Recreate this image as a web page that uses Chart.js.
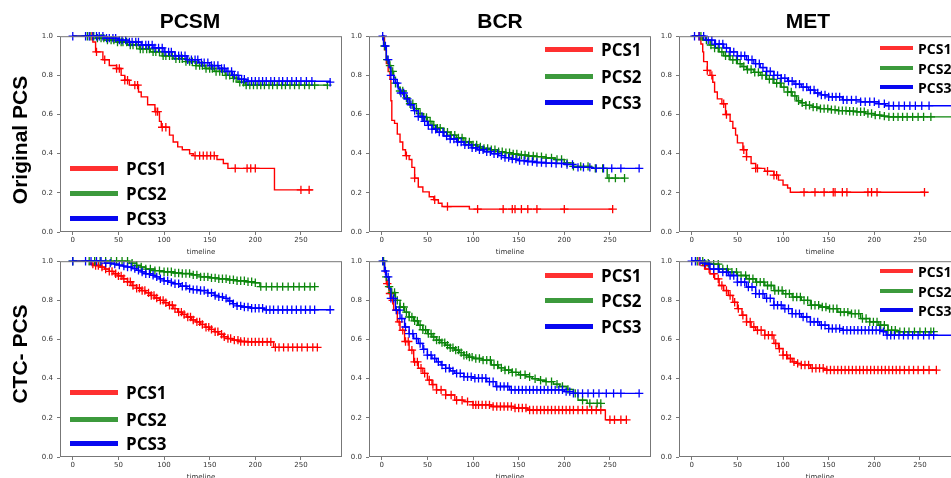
<!DOCTYPE html>
<html>
<head>
<meta charset="utf-8">
<script src="https://cdn.jsdelivr.net/npm/chart.js@4.4.1/dist/chart.umd.min.js"></script>
<style>
  body { margin: 0; background: #fff; width: 951px; height: 478px; overflow: hidden; position: relative; }
  canvas { position: absolute; }
  .colTitle { position: absolute; font: bold 21px "Liberation Sans", Arial, sans-serif; color: #000; transform: translate(-50%, -50%); white-space: nowrap; }
  .rowTitle { position: absolute; font: bold 21px "Liberation Sans", Arial, sans-serif; color: #000; transform: translate(-50%, -50%) rotate(-90deg); white-space: nowrap; }
  .legLine { position: absolute; }
  .legText { position: absolute; font-family: "Open Sans", sans-serif; font-weight: bold; color: #000; transform: translateY(-50%); white-space: nowrap; }
</style>
</head>
<body>
<script>
const xTicks = [0, 50, 100, 150, 200, 250];
const yTicks = [0, 0.2, 0.4, 0.6, 0.8, 1.0];
const seriesNames = ["PCS1", "PCS2", "PCS3"];
const colTitles = ["PCSM", "BCR", "MET"];
const rowTitles = ["Original PCS", "CTC- PCS"];

// Original PCS / PCSM
const origPcsmT1 = [0, 22, 25, 33, 40, 48, 53, 57, 62, 72, 75, 82, 90, 95, 97, 106, 110, 115, 120, 128, 132, 158, 165, 170, 221, 263];
const origPcsmS1 = [1.0, 0.97, 0.92, 0.88, 0.85, 0.835, 0.80, 0.775, 0.75, 0.715, 0.69, 0.65, 0.615, 0.565, 0.535, 0.495, 0.46, 0.435, 0.42, 0.40, 0.39, 0.37, 0.35, 0.325, 0.215, 0.215];
const origPcsmC1 = [21, 26, 35, 48, 51, 57, 60, 68, 71, 91, 93, 98, 102, 134, 139, 143, 147, 151, 155, 178, 191, 195, 200, 250, 259];
const origPcsmT2 = [0, 25, 35, 48, 60, 73, 85, 98, 110, 124, 135, 145, 155, 167, 175, 181, 189, 279];
const origPcsmS2 = [1.0, 0.99, 0.98, 0.97, 0.955, 0.935, 0.92, 0.90, 0.885, 0.87, 0.85, 0.835, 0.82, 0.80, 0.785, 0.765, 0.75, 0.75];
const origPcsmC2 = [16, 19, 23, 27, 31, 34, 38, 42, 45, 49, 53, 55, 59, 63, 66, 70, 74, 77, 81, 84, 88, 91, 95, 99, 102, 106, 109, 113, 117, 120, 124, 128, 131, 135, 139, 142, 146, 150, 153, 157, 161, 164, 168, 172, 176, 179, 183, 187, 190, 194, 198, 202, 206, 210, 215, 219, 224, 229, 233, 238, 243, 248, 254, 259, 265, 279];
const origPcsmT3 = [0, 35, 50, 62, 75, 88, 100, 112, 125, 138, 150, 160, 168, 175, 182, 190, 282];
const origPcsmS3 = [1.0, 0.99, 0.98, 0.97, 0.955, 0.94, 0.92, 0.90, 0.88, 0.865, 0.85, 0.835, 0.82, 0.80, 0.78, 0.77, 0.765];
const origPcsmC3 = [0, 14, 18, 22, 26, 29, 33, 37, 40, 44, 47, 51, 54, 58, 62, 65, 69, 72, 76, 80, 83, 87, 90, 94, 98, 101, 105, 108, 112, 116, 119, 123, 126, 130, 134, 137, 141, 144, 148, 152, 155, 159, 163, 166, 170, 174, 177, 181, 185, 188, 192, 196, 200, 204, 208, 212, 217, 221, 226, 230, 235, 240, 245, 250, 256, 262, 282];

// Original PCS / BCR
const origBcrT1 = [0, 3, 5, 7, 9, 10, 11, 14, 17, 20, 23, 26, 30, 33, 36, 40, 45, 52, 57, 62, 66, 96, 253];
const origBcrS1 = [1.0, 0.93, 0.86, 0.82, 0.78, 0.67, 0.57, 0.555, 0.50, 0.46, 0.42, 0.39, 0.37, 0.33, 0.275, 0.23, 0.205, 0.18, 0.165, 0.147, 0.13, 0.117, 0.117];
const origBcrC1 = [27, 36, 58, 72, 105, 133, 143, 146, 153, 160, 170, 200, 253];
const origBcrT2 = [0, 2, 5, 8, 10, 13, 15, 18, 20, 25, 30, 35, 40, 45, 50, 55, 60, 68, 75, 82, 90, 98, 105, 112, 120, 128, 135, 142, 150, 160, 170, 180, 190, 200, 210, 230, 247, 266];
const origBcrS2 = [1.0, 0.95, 0.88, 0.85, 0.82, 0.79, 0.76, 0.74, 0.72, 0.685, 0.655, 0.63, 0.605, 0.585, 0.565, 0.545, 0.53, 0.51, 0.495, 0.48, 0.46, 0.445, 0.435, 0.427, 0.42, 0.41, 0.405, 0.398, 0.393, 0.388, 0.385, 0.378, 0.37, 0.353, 0.335, 0.325, 0.275, 0.275];
const origBcrC2 = [3, 6, 9, 12, 15, 20, 23, 27, 31, 34, 38, 42, 46, 49, 53, 57, 61, 64, 68, 72, 76, 80, 84, 88, 92, 96, 100, 104, 108, 112, 116, 120, 124, 128, 132, 136, 140, 144, 148, 153, 157, 161, 166, 170, 175, 180, 186, 192, 197, 203, 210, 218, 226, 234, 242, 249, 256, 266];
const origBcrT3 = [0, 2, 5, 8, 10, 13, 15, 18, 20, 25, 30, 35, 40, 45, 50, 55, 60, 68, 75, 82, 90, 98, 105, 112, 120, 128, 135, 142, 150, 160, 170, 180, 190, 200, 210, 230, 282];
const origBcrS3 = [1.0, 0.95, 0.88, 0.84, 0.80, 0.78, 0.76, 0.73, 0.71, 0.68, 0.65, 0.62, 0.59, 0.565, 0.545, 0.525, 0.51, 0.49, 0.475, 0.46, 0.445, 0.43, 0.42, 0.41, 0.40, 0.39, 0.38, 0.372, 0.365, 0.36, 0.355, 0.352, 0.35, 0.345, 0.33, 0.325, 0.325];
const origBcrC3 = [1, 4, 7, 10, 13, 17, 21, 24, 28, 32, 36, 40, 44, 47, 51, 55, 59, 63, 67, 71, 75, 79, 83, 87, 91, 95, 99, 103, 107, 111, 115, 119, 123, 127, 131, 135, 139, 143, 147, 151, 156, 160, 165, 170, 175, 180, 186, 191, 197, 203, 209, 215, 221, 228, 235, 243, 252, 262, 282];

// Original PCS / MET
const origMetT1 = [0, 10, 12, 13, 17, 20, 23, 25, 28, 33, 37, 42, 45, 48, 50, 56, 60, 65, 70, 80, 90, 95, 100, 105, 108, 255];
const origMetS1 = [1.0, 0.96, 0.92, 0.87, 0.825, 0.80, 0.765, 0.715, 0.68, 0.655, 0.60, 0.565, 0.53, 0.495, 0.455, 0.42, 0.385, 0.35, 0.325, 0.31, 0.29, 0.265, 0.24, 0.225, 0.203, 0.203];
const origMetC1 = [8, 17, 22, 35, 38, 57, 60, 70, 72, 83, 90, 93, 123, 135, 145, 155, 157, 165, 170, 193, 197, 203, 255];
const origMetT2 = [0, 12, 20, 25, 30, 35, 42, 50, 55, 60, 68, 75, 82, 90, 98, 105, 110, 115, 120, 125, 132, 140, 150, 160, 170, 180, 190, 200, 208, 215, 292];
const origMetS2 = [1.0, 0.98, 0.955, 0.94, 0.92, 0.90, 0.88, 0.86, 0.845, 0.83, 0.815, 0.80, 0.78, 0.76, 0.74, 0.715, 0.695, 0.67, 0.66, 0.647, 0.638, 0.63, 0.625, 0.62, 0.617, 0.614, 0.605, 0.597, 0.592, 0.588, 0.588];
const origMetC2 = [10, 16, 21, 25, 29, 33, 37, 41, 45, 49, 53, 57, 61, 65, 69, 73, 77, 81, 85, 89, 93, 97, 101, 105, 109, 113, 117, 121, 125, 129, 133, 137, 141, 145, 149, 153, 157, 161, 165, 169, 173, 177, 181, 185, 189, 193, 197, 201, 206, 211, 216, 221, 226, 231, 236, 242, 248, 254, 262, 292];
const origMetT3 = [0, 15, 25, 35, 42, 50, 60, 68, 75, 82, 90, 98, 105, 112, 120, 128, 135, 142, 150, 165, 185, 205, 212, 290];
const origMetS3 = [1.0, 0.98, 0.96, 0.94, 0.92, 0.90, 0.88, 0.86, 0.84, 0.82, 0.80, 0.785, 0.77, 0.755, 0.74, 0.725, 0.71, 0.70, 0.69, 0.675, 0.665, 0.655, 0.645, 0.645];
const origMetC3 = [3, 8, 13, 18, 22, 26, 30, 34, 38, 42, 46, 50, 54, 58, 62, 66, 70, 74, 78, 82, 86, 90, 94, 98, 102, 106, 110, 114, 118, 122, 126, 130, 134, 138, 142, 146, 150, 154, 158, 162, 166, 170, 175, 180, 185, 190, 195, 200, 205, 211, 216, 221, 227, 233, 239, 245, 252, 260, 290];

// CTC- PCS / PCSM
const ctcPcsmT1 = [0, 20, 25, 30, 35, 40, 45, 50, 55, 60, 65, 70, 75, 80, 85, 90, 95, 100, 105, 110, 115, 120, 125, 130, 135, 140, 145, 150, 155, 160, 165, 170, 175, 182, 190, 220, 268];
const ctcPcsmS1 = [1.0, 0.985, 0.978, 0.97, 0.96, 0.948, 0.936, 0.925, 0.91, 0.895, 0.876, 0.862, 0.85, 0.838, 0.825, 0.812, 0.80, 0.788, 0.775, 0.758, 0.74, 0.728, 0.715, 0.70, 0.69, 0.677, 0.663, 0.652, 0.64, 0.627, 0.614, 0.605, 0.597, 0.59, 0.588, 0.56, 0.56];
const ctcPcsmC1 = [22, 25, 28, 32, 36, 40, 43, 47, 50, 53, 56, 60, 63, 66, 70, 73, 76, 79, 83, 86, 89, 92, 96, 99, 102, 106, 109, 112, 116, 119, 122, 126, 129, 132, 136, 139, 142, 146, 149, 152, 156, 159, 163, 166, 170, 173, 177, 181, 184, 188, 192, 196, 200, 204, 208, 213, 217, 222, 226, 231, 236, 241, 246, 251, 257, 263, 268];
const ctcPcsmT2 = [0, 62, 70, 75, 80, 90, 100, 110, 120, 130, 140, 150, 160, 170, 180, 190, 200, 205, 265];
const ctcPcsmS2 = [1.0, 0.99, 0.978, 0.97, 0.96, 0.952, 0.946, 0.94, 0.937, 0.93, 0.92, 0.915, 0.91, 0.905, 0.90, 0.895, 0.89, 0.87, 0.87];
const ctcPcsmC2 = [0, 18, 24, 30, 36, 42, 48, 54, 60, 65, 70, 75, 80, 85, 90, 95, 100, 104, 108, 112, 116, 120, 124, 128, 132, 136, 140, 144, 148, 152, 156, 160, 164, 168, 172, 176, 180, 184, 188, 192, 196, 200, 206, 212, 218, 224, 230, 236, 242, 248, 254, 260, 265];
const ctcPcsmT3 = [0, 35, 45, 50, 55, 60, 65, 70, 75, 80, 85, 90, 95, 100, 105, 110, 118, 125, 132, 140, 148, 155, 160, 165, 170, 175, 180, 185, 195, 210, 282];
const ctcPcsmS3 = [1.0, 0.99, 0.985, 0.98, 0.975, 0.97, 0.962, 0.953, 0.945, 0.936, 0.928, 0.92, 0.91, 0.90, 0.892, 0.885, 0.872, 0.86, 0.855, 0.85, 0.838, 0.825, 0.818, 0.81, 0.797, 0.783, 0.772, 0.766, 0.76, 0.752, 0.752];
const ctcPcsmC3 = [0, 14, 20, 26, 31, 36, 41, 46, 51, 56, 60, 64, 68, 72, 76, 80, 84, 88, 92, 96, 100, 104, 108, 112, 116, 120, 124, 128, 132, 136, 140, 144, 148, 152, 156, 160, 164, 168, 172, 176, 180, 184, 188, 192, 196, 200, 204, 208, 212, 216, 220, 225, 230, 235, 240, 245, 250, 255, 260, 265, 282];

// CTC- PCS / BCR
const ctcBcrT1 = [0, 3, 5, 8, 10, 13, 17, 20, 25, 30, 35, 40, 45, 50, 55, 60, 70, 80, 90, 100, 120, 145, 160, 245, 268];
const ctcBcrS1 = [1.0, 0.945, 0.885, 0.835, 0.80, 0.75, 0.69, 0.647, 0.59, 0.546, 0.486, 0.453, 0.427, 0.393, 0.37, 0.343, 0.317, 0.29, 0.283, 0.266, 0.258, 0.25, 0.24, 0.19, 0.19];
const ctcBcrC1 = [6, 9, 12, 16, 19, 23, 26, 29, 33, 36, 39, 43, 47, 52, 56, 60, 65, 70, 76, 82, 88, 94, 100, 103, 106, 110, 114, 118, 122, 126, 130, 134, 138, 142, 146, 150, 154, 158, 162, 166, 170, 174, 178, 182, 186, 190, 194, 198, 202, 206, 210, 215, 220, 225, 230, 235, 240, 250, 255, 262, 268];
const ctcBcrT2 = [0, 3, 5, 8, 10, 15, 20, 25, 30, 35, 40, 45, 50, 55, 60, 65, 70, 75, 80, 85, 90, 95, 100, 110, 120, 128, 135, 142, 150, 158, 165, 172, 180, 188, 195, 203, 210, 215, 225, 240];
const ctcBcrS2 = [1.0, 0.95, 0.92, 0.87, 0.84, 0.80, 0.766, 0.74, 0.715, 0.695, 0.673, 0.65, 0.63, 0.613, 0.597, 0.584, 0.571, 0.558, 0.546, 0.533, 0.52, 0.51, 0.503, 0.495, 0.47, 0.455, 0.444, 0.432, 0.42, 0.41, 0.40, 0.392, 0.385, 0.372, 0.36, 0.345, 0.325, 0.29, 0.274, 0.274];
const ctcBcrC2 = [2, 5, 8, 11, 14, 17, 20, 24, 27, 30, 33, 36, 39, 42, 45, 48, 51, 54, 57, 60, 63, 66, 69, 72, 75, 78, 81, 84, 87, 90, 93, 96, 99, 103, 107, 111, 115, 119, 123, 127, 131, 135, 139, 143, 147, 152, 157, 162, 168, 174, 180, 186, 192, 198, 204, 212, 220, 228, 236, 240];
const ctcBcrT3 = [0, 3, 5, 8, 10, 15, 20, 25, 30, 35, 40, 45, 50, 55, 60, 65, 70, 75, 80, 90, 100, 115, 125, 140, 170, 200, 210, 282];
const ctcBcrS3 = [1.0, 0.95, 0.92, 0.86, 0.81, 0.75, 0.707, 0.664, 0.63, 0.605, 0.58, 0.55, 0.52, 0.503, 0.486, 0.47, 0.453, 0.44, 0.427, 0.41, 0.402, 0.385, 0.36, 0.343, 0.343, 0.334, 0.325, 0.325];
const ctcBcrC3 = [1, 4, 7, 10, 13, 16, 19, 22, 26, 30, 34, 38, 42, 46, 50, 54, 58, 62, 66, 70, 74, 78, 82, 86, 90, 94, 98, 102, 106, 110, 114, 118, 122, 126, 130, 134, 138, 142, 146, 150, 154, 158, 162, 166, 170, 174, 178, 182, 186, 190, 194, 198, 202, 206, 210, 215, 220, 226, 232, 238, 246, 254, 262, 282];

// CTC- PCS / MET
const ctcMetT1 = [0, 10, 12, 15, 20, 25, 30, 35, 40, 45, 50, 55, 60, 65, 70, 80, 90, 95, 100, 105, 110, 115, 120, 130, 145, 268];
const ctcMetS1 = [1.0, 0.99, 0.978, 0.96, 0.936, 0.91, 0.876, 0.85, 0.825, 0.79, 0.758, 0.724, 0.69, 0.664, 0.647, 0.622, 0.58, 0.554, 0.52, 0.503, 0.486, 0.478, 0.47, 0.453, 0.444, 0.444];
const ctcMetC1 = [8, 14, 19, 24, 29, 33, 38, 42, 47, 51, 56, 60, 64, 68, 72, 76, 80, 84, 88, 92, 96, 100, 104, 108, 112, 116, 120, 124, 128, 132, 136, 140, 144, 148, 152, 156, 160, 164, 168, 172, 176, 180, 184, 188, 192, 196, 200, 204, 208, 212, 216, 220, 224, 228, 233, 238, 243, 248, 254, 260, 268];
const ctcMetT2 = [0, 15, 20, 30, 40, 50, 60, 70, 80, 90, 100, 110, 120, 130, 140, 150, 160, 175, 185, 195, 205, 215, 225, 265];
const ctcMetS2 = [1.0, 0.99, 0.985, 0.96, 0.944, 0.927, 0.91, 0.893, 0.876, 0.85, 0.834, 0.817, 0.80, 0.775, 0.766, 0.758, 0.74, 0.732, 0.707, 0.69, 0.673, 0.647, 0.64, 0.64];
const ctcMetC2 = [6, 12, 18, 24, 29, 34, 39, 44, 49, 54, 59, 63, 67, 71, 75, 79, 83, 87, 91, 95, 99, 103, 107, 111, 115, 119, 123, 127, 131, 135, 139, 143, 147, 151, 155, 159, 163, 167, 171, 175, 179, 183, 187, 191, 195, 199, 203, 207, 211, 215, 219, 223, 228, 233, 238, 244, 250, 256, 262, 265];
const ctcMetT3 = [0, 10, 15, 20, 30, 40, 50, 60, 70, 80, 90, 100, 110, 120, 130, 140, 150, 165, 200, 210, 213, 290];
const ctcMetS3 = [1.0, 0.99, 0.985, 0.96, 0.944, 0.927, 0.893, 0.868, 0.834, 0.81, 0.775, 0.758, 0.732, 0.715, 0.69, 0.673, 0.656, 0.647, 0.647, 0.64, 0.622, 0.622];
const ctcMetC3 = [0, 4, 9, 14, 19, 24, 29, 34, 38, 42, 46, 50, 54, 58, 62, 66, 70, 74, 78, 82, 86, 90, 94, 98, 102, 106, 110, 114, 118, 122, 126, 130, 134, 138, 142, 146, 150, 154, 158, 162, 166, 170, 174, 178, 182, 186, 190, 194, 198, 202, 206, 210, 214, 218, 222, 227, 232, 237, 242, 248, 254, 260, 265, 290];

const lineColors = ["#ff0000", "#0c860c", "#0000ff"];
const legendColors = ["#ff3030", "#3c9a3c", "#0808f0"];

// plot area of each panel in page pixels + where its legend sits
const panels = [
  { left: 60, top: 36, data: [[origPcsmT1, origPcsmS1, origPcsmC1], [origPcsmT2, origPcsmS2, origPcsmC2], [origPcsmT3, origPcsmS3, origPcsmC3]],
    legend: { x1: 70, x2: 118, tx: 126, ys: [168, 193, 218], size: 17, lw: 5 } },
  { left: 369, top: 36, data: [[origBcrT1, origBcrS1, origBcrC1], [origBcrT2, origBcrS2, origBcrC2], [origBcrT3, origBcrS3, origBcrC3]],
    legend: { x1: 545, x2: 593, tx: 601, ys: [49, 76, 102], size: 17, lw: 5 } },
  { left: 679, top: 36, data: [[origMetT1, origMetS1, origMetC1], [origMetT2, origMetS2, origMetC2], [origMetT3, origMetS3, origMetC3]],
    legend: { x1: 880, x2: 913, tx: 918, ys: [48, 68, 87], size: 14, lw: 4 } },
  { left: 60, top: 261, data: [[ctcPcsmT1, ctcPcsmS1, ctcPcsmC1], [ctcPcsmT2, ctcPcsmS2, ctcPcsmC2], [ctcPcsmT3, ctcPcsmS3, ctcPcsmC3]],
    legend: { x1: 70, x2: 118, tx: 126, ys: [392, 419, 443], size: 17, lw: 5 } },
  { left: 369, top: 261, data: [[ctcBcrT1, ctcBcrS1, ctcBcrC1], [ctcBcrT2, ctcBcrS2, ctcBcrC2], [ctcBcrT3, ctcBcrS3, ctcBcrC3]],
    legend: { x1: 545, x2: 593, tx: 601, ys: [275, 300, 326], size: 17, lw: 5 } },
  { left: 679, top: 261, data: [[ctcMetT1, ctcMetS1, ctcMetC1], [ctcMetT2, ctcMetS2, ctcMetC2], [ctcMetT3, ctcMetS3, ctcMetC3]],
    legend: { x1: 880, x2: 913, tx: 918, ys: [271, 291, 310], size: 14, lw: 4 } },
];

const PLOT_W = 282, PLOT_H = 196, PAD_L = 32, PAD_T = 8, PAD_R = 8, PAD_B = 24;

// KM value at a censor time = last step at or before it
const survivalAt = (times, surv, t) => {
  let v = surv[0];
  for (let i = 0; i < times.length; i++) {
    if (times[i] <= t) v = surv[i];
  }
  return v;
};

const framePlugin = {
  id: "frame",
  afterDraw(chart) {
    const { ctx, chartArea: a } = chart;
    ctx.save();
    ctx.strokeStyle = "#777";
    ctx.lineWidth = 1;
    ctx.strokeRect(a.left + 0.5, a.top + 0.5, a.right - a.left - 1, a.bottom - a.top - 1);
    ctx.restore();
  },
};

const tickFont = { family: "DejaVu Sans", size: 7 };

panels.forEach((p, idx) => {
  const canvas = document.createElement("canvas");
  canvas.width = PAD_L + PLOT_W + PAD_R;
  canvas.height = PAD_T + PLOT_H + PAD_B;
  canvas.style.left = (p.left - PAD_L) + "px";
  canvas.style.top = (p.top - PAD_T) + "px";
  document.body.appendChild(canvas);

  const datasets = [];
  p.data.forEach(([times, surv, cens], i) => {
    datasets.push({
      type: "line",
      data: times.map((t, k) => ({ x: t, y: surv[k] })),
      stepped: "before",
      borderColor: lineColors[i],
      borderWidth: 1.4,
      pointRadius: 0,
      fill: false,
      clip: 6,
      order: 2 - i,
    });
    datasets.push({
      type: "scatter",
      data: cens.map((t) => ({ x: t, y: survivalAt(times, surv, t) })),
      pointStyle: "cross",
      pointRadius: 4.2,
      borderWidth: 1.3,
      borderColor: lineColors[i],
      backgroundColor: lineColors[i],
      clip: 6,
      order: 2 - i,
    });
  });

  new Chart(canvas, {
    data: { datasets },
    options: {
      responsive: false,
      animation: false,
      devicePixelRatio: 1,
      events: [],
      layout: { padding: { top: PAD_T, right: PAD_R, left: 0, bottom: 0 } },
      plugins: { legend: { display: false }, tooltip: { enabled: false } },
      scales: {
        x: {
          type: "linear",
          min: -14,
          max: 295,
          afterBuildTicks: (axis) => { axis.ticks = xTicks.map((v) => ({ value: v })); },
          afterFit: (axis) => { axis.height = PAD_B; },
          ticks: { font: tickFont, color: "#333", padding: 1, maxRotation: 0, autoSkip: false },
          grid: { drawOnChartArea: false, drawTicks: true, tickLength: 3, color: "#777" },
          border: { display: false },
          title: { display: true, text: "timeline", font: tickFont, color: "#333", padding: 0 },
        },
        y: {
          type: "linear",
          min: 0,
          max: 1,
          afterBuildTicks: (axis) => { axis.ticks = yTicks.map((v) => ({ value: v })); },
          afterFit: (axis) => { axis.width = PAD_L; },
          ticks: { font: tickFont, color: "#333", padding: 4, callback: (v) => v.toFixed(1) },
          grid: { drawOnChartArea: false, drawTicks: true, tickLength: 3, color: "#777" },
          border: { display: false },
        },
      },
    },
    plugins: [framePlugin],
  });

  // legend, drawn as page text
  const lg = p.legend;
  seriesNames.forEach((name, i) => {
    const line = document.createElement("div");
    line.className = "legLine";
    line.style.left = lg.x1 + "px";
    line.style.width = (lg.x2 - lg.x1) + "px";
    line.style.top = (lg.ys[i] - lg.lw / 2) + "px";
    line.style.height = lg.lw + "px";
    line.style.background = legendColors[i];
    document.body.appendChild(line);
    const txt = document.createElement("div");
    txt.className = "legText";
    txt.style.left = lg.tx + "px";
    txt.style.top = lg.ys[i] + "px";
    txt.style.fontSize = lg.size + "px";
    txt.textContent = name;
    document.body.appendChild(txt);
  });
});

const colTitleX = [190, 500, 808];
colTitles.forEach((t, i) => {
  const d = document.createElement("div");
  d.className = "colTitle";
  d.style.left = colTitleX[i] + "px";
  d.style.top = "21px";
  d.textContent = t;
  document.body.appendChild(d);
});

const rowTitleY = [140, 354];
rowTitles.forEach((t, i) => {
  const d = document.createElement("div");
  d.className = "rowTitle";
  d.style.left = "20px";
  d.style.top = rowTitleY[i] + "px";
  d.textContent = t;
  document.body.appendChild(d);
});
</script>
</body>
</html>
